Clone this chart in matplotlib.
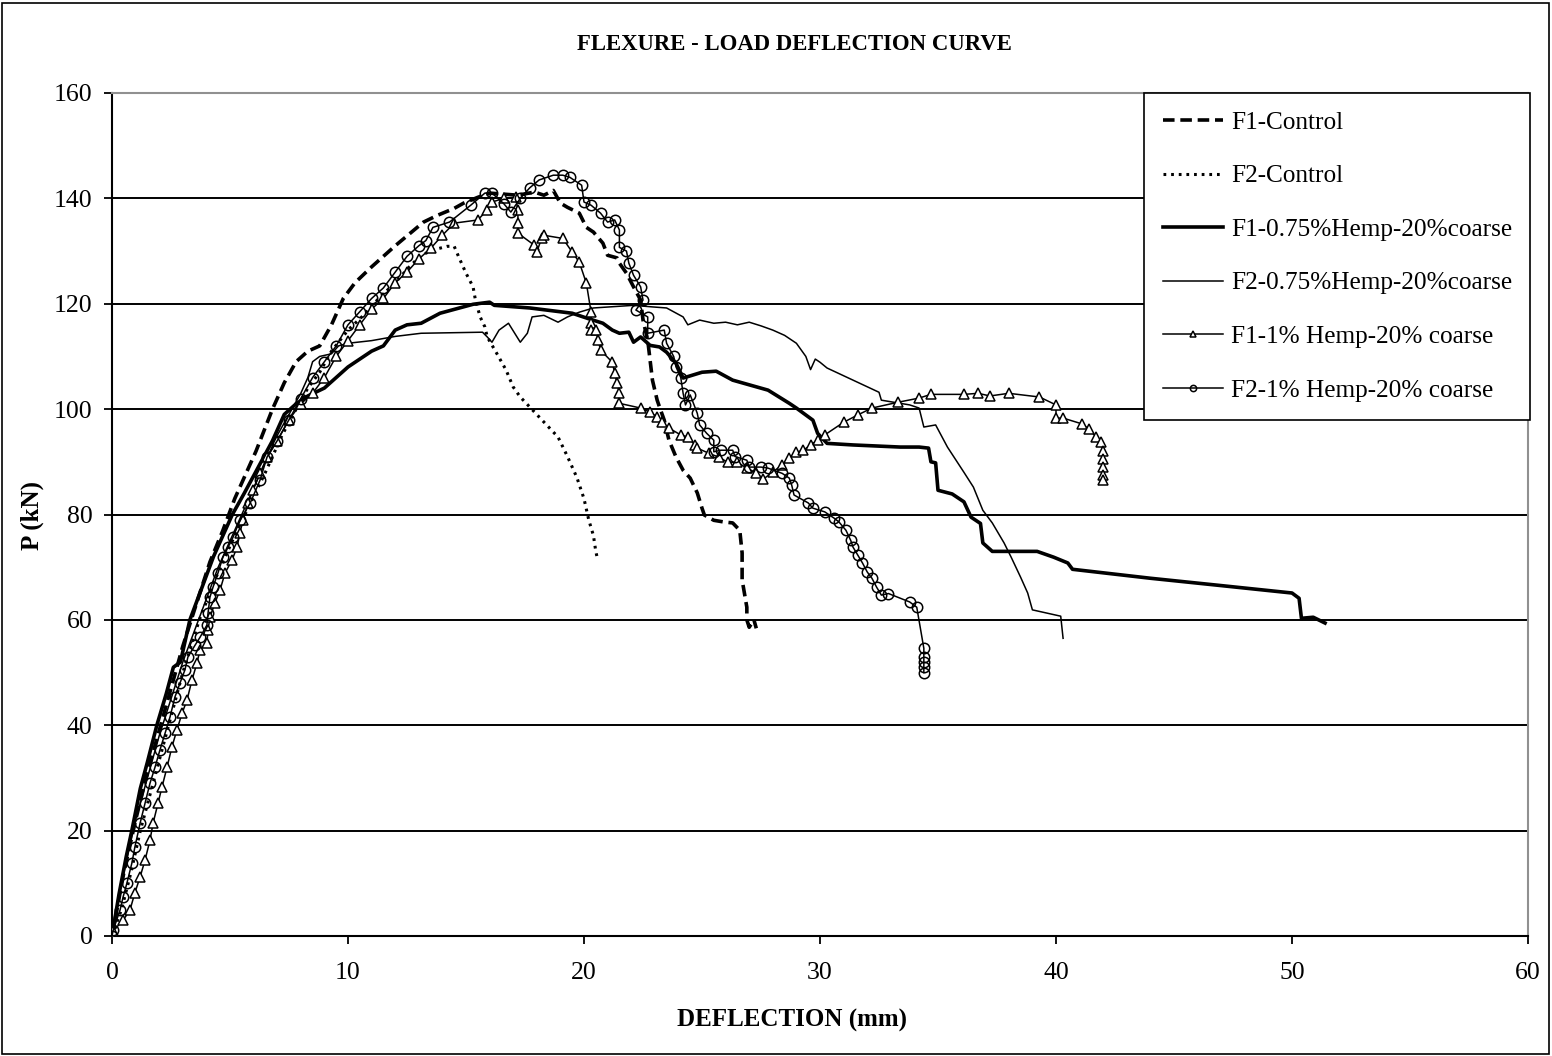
import matplotlib
matplotlib.use("Agg")
import matplotlib.pyplot as plt
from matplotlib.patches import Rectangle

plt.rcParams['font.family'] = ['Liberation Serif', 'DejaVu Serif']

# F1-Control (dashed)
f1c_x = [0, 0.5, 1, 1.5, 2, 2.5, 3, 3.5, 4.15, 4.7,
         5.2, 6.1, 6.8, 7.3, 7.8, 8.3, 8.8, 9.3, 9.8, 10.3,
         11, 12, 13.2, 13.8, 14.5, 14.9, 15.5, 16, 17.2, 17.9,
         18.3, 18.7, 19, 19.3, 19.8, 20.1, 20.4, 20.8, 21, 21.4,
         21.5, 21.8, 22.1, 22.4, 22.5, 22.7, 22.8, 22.9, 23.1, 23.2,
         23.4, 23.6, 23.9, 24.2, 24.5, 24.8, 25, 25.1, 25.5, 25.9,
         26.3, 26.6, 26.7, 26.7, 26.9, 26.9, 27, 27.2, 27.3]
f1c_y = [0, 12, 22, 31, 39, 47, 55, 62, 71, 77,
         83, 92, 100, 105, 109, 111, 112, 116, 121, 124,
         127, 131, 135.5, 136.8, 138.1, 139.1, 140.2, 141, 140.6, 141.2,
         140.6, 141.5, 139.1, 138.3, 137.2, 134.5, 133.6, 131.5, 129.2, 128.7,
         127.7, 125.8, 123.2, 120.7, 116.9, 113.1, 109.3, 105.5, 101.7, 100.4,
         97.9, 94.1, 90.9, 88.4, 86.9, 84.1, 81.2, 79.9, 78.9, 78.6,
         78.4, 77, 72.7, 67.6, 62.4, 60, 58.6, 60, 58.4]

# F2-Control (dotted)
f2c_x = [0, 0.4, 0.8, 1.2, 1.8, 2.4, 3, 3.7, 4.4, 5.1,
         5.85, 6.5, 7.2, 7.8, 8.3, 8.8, 9.3, 10, 10.7, 11.3,
         12, 12.6, 13.1, 13.6, 14.2, 14.5, 14.7, 15, 15.3, 15.4,
         15.6, 15.8, 15.9, 16.3, 16.7, 17, 17.3, 17.7, 18.1, 18.5,
         18.9, 19.3, 19.7, 20, 20.2, 20.4, 20.5, 20.55]
f2c_y = [0, 5, 12, 20, 30, 40, 50, 60, 68, 75,
         82, 88, 95, 100, 104, 107, 111, 115, 118, 121,
         124, 127, 129.2, 130.2, 130.9, 130.9, 128.8, 125.8, 123.2, 120.7,
         117.5, 115.6, 113.7, 110.6, 107.4, 104.2, 102.3, 100.4, 98.5, 96.6,
         94.7, 91, 87, 83, 79, 76, 73, 72]

# F1-0.75%Hemp-20%coarse (thick solid)
f1h75_x = [0, 0.3, 0.6, 0.84, 1.2, 1.5, 1.9, 2.3, 2.6, 2.9,
           3.3, 3.8, 4.3, 4.7, 5.1, 5.6, 6.2, 6.8, 7.3, 7.8,
           8.3, 9, 10, 10.5, 11, 11.5, 12, 12.5, 13.1, 13.9,
           15.3, 16, 16.2, 17.7, 19.5, 20.1, 20.8, 21.2, 21.5, 21.9,
           22.1, 22.4, 22.8, 23.2, 23.5, 23.9, 24.2, 25, 25.6, 26.3,
           27.8, 28.7, 29, 29.7, 29.9, 30.3, 31.4, 33.4, 34.2, 34.6,
           34.7, 34.9, 35, 35.6, 36.1, 36.4, 36.8, 36.9, 37.3, 39.2,
           39.9, 40.5, 40.7, 44, 46.8, 50, 50.3, 50.4, 50.9, 51.4]
f1h75_y = [0, 8, 15, 20, 28, 33, 40, 46, 51, 52,
           60, 66, 72, 76, 80, 84, 89, 94, 99, 101,
           102.5, 104, 108, 109.5, 111, 112, 115, 116, 116.3, 118.2,
           119.9, 120.3, 119.7, 119.2, 118.2, 117.3, 116.3, 115, 114.4, 114.6,
           112.7, 113.7, 112.1, 111.8, 110.8, 108.7, 105.9, 107, 107.2, 105.5,
           103.6, 101.1, 100.2, 97.9, 95.4, 93.5, 93.2, 92.8, 92.8, 92.6,
           90, 89.8, 84.6, 83.9, 82.4, 79.5, 78.3, 74.6, 73, 73,
           71.9, 70.8, 69.6, 67.9, 66.6, 65.1, 64.1, 60.3, 60.5, 59.4]

# F2-0.75%Hemp-20%coarse (thin solid)
f2h75_x = [0, 0.3, 0.7, 1, 1.5, 2, 2.5, 3, 3.5, 4,
           4.5, 5, 5.5, 6, 6.5, 7, 7.5, 8, 8.3, 8.5,
           8.8, 9.3, 9.6, 10, 11, 12, 13.1, 15.7, 15.9, 16.1,
           16.4, 16.8, 17.3, 17.6, 17.8, 18.3, 18.9, 19.3, 19.8, 20.4,
           22.1, 22.9, 23.5, 24.2, 24.4, 24.9, 25.5, 26, 26.5, 27,
           27.5, 28, 28.5, 29, 29.4, 29.6, 29.8, 30, 30.3, 31.4,
           32.5, 32.6, 33.8, 34.2, 34.4, 34.9, 35.4, 36.1, 36.5, 36.9,
           37.3, 37.8, 38.1, 38.5, 38.8, 39, 40.2, 40.3]
f2h75_y = [0, 8, 16, 22, 30, 38, 45, 52, 58, 64,
           70, 75, 80, 85, 90, 95, 99, 103, 106, 109,
           110, 110.5, 112, 112.5, 113, 113.8, 114.4, 114.6, 113.7, 112.7,
           115, 116.3, 112.7, 114.4, 117.5, 117.8, 116.5, 117.5, 118.4, 119.2,
           119.7, 119.4, 119.2, 117.5, 116, 116.9, 116.3, 116.5, 116, 116.5,
           115.8, 115, 114, 112.5, 110, 107.5, 109.5, 108.9, 107.8, 105.5,
           103.2, 101.7, 100.8, 100.2, 96.6, 97, 92.8, 88, 85.2, 80.8,
           78.4, 74.6, 71.9, 68.1, 65.1, 61.9, 60.7, 56.5]

# F1-1% Hemp-20% coarse (triangles)
f1h1_x = [0, 0.06, 0.47, 0.76, 0.97, 1.19, 1.4, 1.61, 1.74, 1.95,
          2.12, 2.33, 2.54, 2.75, 2.97, 3.18, 3.39, 3.6, 3.73, 4.02,
          4.07, 4.15, 4.36, 4.58, 4.79, 5.08, 5.3, 5.42, 5.55, 5.76,
          5.97, 6.27, 6.57, 7, 7.5, 8, 8.5, 9, 9.5, 10,
          10.5, 11, 11.5, 12, 12.5, 13, 13.5, 14, 14.5, 15.5,
          15.9, 16.1, 16.6, 17.1, 17.2, 17.2, 17.2, 17.9, 18, 18.2,
          18.3, 19.1, 19.5, 19.8, 20.1, 20.3, 20.3, 20.3, 20.5, 20.6,
          20.7, 21.2, 21.3, 21.4, 21.5, 21.5, 22.4, 22.8, 23.1, 23.3,
          23.6, 24.1, 24.4, 24.7, 24.8, 25.3, 25.7, 26.1, 26.5, 26.9,
          27.3, 27.6, 28, 28.4, 28.7, 29, 29.3, 29.6, 29.9, 30.2,
          31, 31.6, 32.2, 33.3, 34.2, 34.7, 36.1, 36.7, 37.2, 38,
          39.3, 40, 40, 40.3, 41.1, 41.4, 41.7, 41.9, 42, 42,
          42, 42, 42]
f1h1_y = [0, 1, 3, 4.9, 8.2, 11.2, 14.4, 18.2, 21.4, 25.2,
          28.3, 32, 35.9, 39.1, 42.3, 44.8, 48.6, 51.8, 54.3, 55.6,
          58.1, 60.5, 63.2, 65.7, 68.9, 71.3, 73.8, 76.5, 78.9, 82.1,
          84.6, 87.8, 90.9, 94, 98, 101, 103, 106, 110, 113,
          116, 119, 121, 124, 126, 128.5, 130.5, 133, 135.3, 135.9,
          137.8, 139.3, 140, 140.2, 137.8, 135.3, 133.4, 131.1, 129.8, 132.4,
          133, 132.4, 129.8, 127.9, 123.9, 118.4, 116.3, 115, 115, 113.1,
          111.2, 108.9, 106.8, 104.9, 103, 101.1, 100.2, 99.4, 98.5, 97.5,
          96.4, 95.1, 94.7, 93.2, 92.6, 91.6, 90.9, 89.9, 89.9, 88.8,
          87.9, 86.7, 88.1, 89.4, 90.7, 91.8, 92.2, 93.2, 94.1, 95.1,
          97.5, 98.9, 100.2, 101.3, 102.1, 102.8, 102.8, 103, 102.5, 103,
          102.3, 100.8, 98.3, 98.3, 97.2, 96.2, 94.7, 93.7, 92, 90.5,
          89, 87.5, 86.5]

# F2-1% Hemp-20% coarse (circles)
f2h1_x = [0, 0.05, 0.34, 0.47, 0.63, 0.84, 0.97, 1.19, 1.4, 1.61,
          1.82, 2.03, 2.25, 2.46, 2.67, 2.88, 3.09, 3.22, 3.52, 3.73,
          4.02, 4.07, 4.15, 4.28, 4.49, 4.7, 4.92, 5.13, 5.42, 5.85,
          6.27, 6.57, 7, 7.5, 8, 8.5, 9, 9.5, 10, 10.5,
          11, 11.5, 12, 12.5, 13, 13.3, 13.6, 14.3, 15.2, 15.8,
          16.1, 16.6, 16.9, 17.3, 17.7, 18.1, 18.7, 19.1, 19.4, 19.9,
          20, 20.3, 20.7, 21, 21.3, 21.5, 21.5, 21.8, 21.9, 22.1,
          22.4, 22.5, 22.2, 22.7, 22.7, 23.4, 23.5, 23.8, 23.9, 24.1,
          24.2, 24.3, 24.5, 24.8, 24.9, 25.2, 25.5, 25.5, 25.8, 26.3,
          26.4, 26.9, 27, 27.5, 27.8, 28.4, 28.7, 28.8, 28.9, 29.5,
          29.7, 30.2, 30.6, 30.8, 31.1, 31.3, 31.4, 31.6, 31.8, 32,
          32.2, 32.4, 32.6, 32.9, 33.8, 34.1, 34.4, 34.4, 34.4, 34.4,
          34.4]
f2h1_y = [0, 1.1, 4.9, 7.4, 10, 13.8, 16.9, 21.4, 25.2, 29,
          32, 35.3, 38.5, 41.6, 45.4, 48, 50.5, 53, 55.2, 56.7,
          59, 61.3, 64.3, 66.2, 68.9, 71.9, 73.8, 75.7, 78.9, 82.1,
          86.5, 90.9, 94, 98, 102, 106, 109, 112, 116, 118.5,
          121, 123, 126, 129, 131, 132, 134.5, 135.5, 138.7, 141,
          141, 139, 137.4, 140, 142, 143.5, 144.4, 144.4, 144, 142.5,
          139.3, 138.7, 137.2, 135.5, 135.9, 134, 130.7, 130, 127.7, 125.4,
          123.2, 120.7, 118.8, 117.5, 114.4, 115, 112.5, 110, 108, 106,
          103, 100.8, 102.7, 99.2, 97, 95.4, 94.1, 91.9, 92.2, 92.2,
          91, 90.3, 89, 89, 88.8, 87.8, 86.9, 85.6, 83.7, 82.2,
          81.2, 80.5, 79.3, 78.6, 77, 75.1, 73.8, 72.3, 70.8, 69.1,
          67.9, 66.2, 64.7, 65, 63.4, 62.4, 54.6, 53, 52, 51,
          50]

x_ticks = [0, 10, 20, 30, 40, 50, 60]
y_ticks = [0, 20, 40, 60, 80, 100, 120, 140, 160]

fig = plt.figure(figsize=(15.52, 10.56), dpi=100)
ax = fig.add_axes([112 / 1552, 1 - 936 / 1056, 1416 / 1552, 843 / 1056])

ax.plot(f1c_x, f1c_y, color='black', lw=2.6, ls=(0, (3.2, 1.6)), label='F1-Control', zorder=3)
ax.plot(f2c_x, f2c_y, color='black', lw=2.2, ls=(0, (0.9, 1.6)), label='F2-Control', zorder=3)
ax.plot(f1h75_x, f1h75_y, color='black', lw=2.6, label='F1-0.75%Hemp-20%coarse', zorder=3)
ax.plot(f2h75_x, f2h75_y, color='black', lw=1.1, label='F2-0.75%Hemp-20%coarse', zorder=3)
ax.plot(f1h1_x, f1h1_y, color='black', lw=1.1, marker='^', ms=6.5, mfc='white', mew=1.1,
        label='F1-1% Hemp-20% coarse', zorder=3)
ax.plot(f2h1_x, f2h1_y, color='black', lw=1.1, marker='o', ms=7.5, mfc='none', mew=1.1,
        label='F2-1% Hemp-20% coarse', zorder=3)

ax.set_xlim(0, 60)
ax.set_ylim(0, 160)
ax.set_xticks(x_ticks)
ax.set_yticks(y_ticks)
ax.tick_params(direction='out', length=6, width=1.3, labelsize=18.5)
ax.tick_params(axis='x', pad=13)
ax.tick_params(axis='y', pad=8)
ax.yaxis.grid(True, color='black', lw=1.4)
ax.set_axisbelow(True)
for s in ['left', 'bottom']:
    ax.spines[s].set_linewidth(1.5)
for s in ['top', 'right']:
    ax.spines[s].set_color('#909090')
    ax.spines[s].set_linewidth(1.5)

leg = ax.legend(loc='upper right', bbox_to_anchor=(1.0015, 1.0), borderaxespad=0,
                fontsize=18.2, frameon=True, fancybox=False, edgecolor='black', framealpha=1,
                labelspacing=1.22, handlelength=2.4, handletextpad=0.3,
                borderpad=0.72, markerscale=0.6)
leg.get_frame().set_linewidth(1.2)
leg.set_zorder(5)

fig.text(794 / 1552, 1 - 44 / 1056, 'FLEXURE - LOAD DEFLECTION CURVE', ha='center', va='center',
         fontsize=16.4, fontweight='bold')
fig.text(792 / 1552, 1 - 1020 / 1056, 'DEFLECTION (mm)', ha='center', va='center',
         fontsize=18, fontweight='bold')
fig.text(32 / 1552, 1 - 515 / 1056, 'P (kN)', ha='center', va='center', rotation=90,
         fontsize=18, fontweight='bold')

fig.patches.append(Rectangle((2 / 1552, 2 / 1056), 1 - 5 / 1552, 1 - 5 / 1056,
                             transform=fig.transFigure, fill=False, edgecolor='black', lw=1.2))

fig.savefig('out.png', dpi=100)
